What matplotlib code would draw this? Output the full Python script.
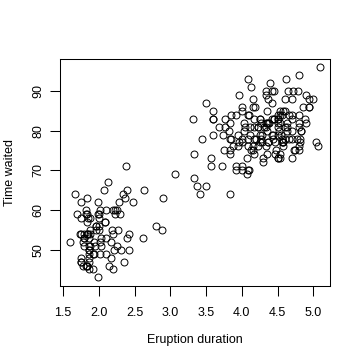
import matplotlib
matplotlib.use("Agg")
import matplotlib.pyplot as plt
import numpy as np

eruptions = [3.600, 1.800, 3.333, 2.283, 4.533, 2.883, 4.700, 3.600, 1.950, 4.350,
	1.833, 3.917, 4.200, 1.750, 4.700, 2.167, 1.750, 4.800, 1.600, 4.250,
	1.800, 1.750, 3.450, 3.067, 4.533, 3.600, 1.967, 4.083, 3.850, 4.433,
	4.300, 4.467, 3.367, 4.033, 3.833, 2.017, 1.867, 4.833, 1.833, 4.783,
	4.350, 1.883, 4.567, 1.750, 4.533, 3.317, 3.833, 2.100, 4.633, 2.000,
	4.800, 4.716, 1.833, 4.833, 1.733, 4.883, 3.717, 1.667, 4.567, 4.317,
	2.233, 4.500, 1.750, 4.800, 1.817, 4.400, 4.167, 4.700, 2.067, 4.700,
	4.033, 1.967, 4.500, 4.000, 1.983, 5.067, 2.017, 4.567, 3.883, 3.600,
	4.133, 4.333, 4.100, 2.633, 4.067, 4.933, 3.950, 4.517, 2.167, 4.000,
	2.200, 4.333, 1.867, 4.817, 1.833, 4.300, 4.667, 3.750, 1.867, 4.900,
	2.483, 4.367, 2.100, 4.500, 4.050, 1.867, 4.700, 1.783, 4.850, 3.683,
	4.733, 2.300, 4.900, 4.417, 1.700, 4.633, 2.317, 4.600, 1.817, 4.417,
	2.617, 4.067, 4.250, 1.967, 4.600, 3.767, 1.917, 4.500, 2.267, 4.650,
	1.867, 4.167, 2.800, 4.333, 1.833, 4.383, 1.883, 4.933, 2.033, 3.733,
	4.233, 2.233, 4.533, 4.817, 4.333, 1.983, 4.633, 2.017, 5.100, 1.800,
	5.033, 4.000, 2.400, 4.600, 3.567, 4.000, 4.500, 4.083, 1.800, 3.967,
	2.200, 4.150, 2.000, 3.833, 3.500, 4.583, 2.367, 5.000, 1.933, 4.617,
	1.917, 2.083, 4.583, 3.333, 4.167, 4.333, 4.500, 2.417, 4.000, 4.167,
	1.883, 4.583, 4.250, 3.767, 2.033, 4.433, 4.083, 1.833, 4.417, 2.183,
	4.800, 1.833, 4.800, 4.100, 3.966, 4.233, 3.500, 4.366, 2.250, 4.667,
	2.100, 4.350, 4.133, 1.867, 4.600, 1.783, 4.367, 3.850, 1.933, 4.500,
	2.383, 4.700, 1.867, 3.833, 3.417, 4.233, 2.400, 4.800, 2.000, 4.150,
	1.867, 4.267, 1.750, 4.483, 4.000, 4.117, 4.083, 4.267, 3.917, 4.550,
	4.083, 2.417, 4.183, 2.217, 4.450, 1.883, 1.850, 4.283, 3.950, 2.333,
	4.150, 2.350, 4.933, 2.900, 4.583, 3.833, 2.083, 4.367, 2.133, 4.350,
	2.200, 4.450, 3.567, 4.500, 4.150, 3.817, 3.917, 4.450, 2.000, 4.283,
	4.767, 4.533, 1.850, 4.250, 1.983, 2.250, 4.750, 4.117, 2.150, 4.417,
	1.817, 4.467]

waiting = [79, 54, 74, 62, 85, 55, 88, 85, 51, 85, 54, 84, 78, 47, 83, 52, 62, 84, 52, 79,
	51, 47, 78, 69, 74, 83, 55, 76, 78, 79, 73, 77, 66, 80, 74, 52, 48, 80, 59, 90,
	80, 58, 84, 58, 73, 83, 64, 53, 82, 59, 75, 90, 54, 80, 54, 83, 71, 64, 77, 81,
	59, 84, 48, 82, 60, 92, 78, 78, 65, 73, 82, 56, 79, 71, 62, 76, 60, 78, 76, 83,
	75, 82, 70, 65, 73, 88, 76, 80, 48, 86, 60, 90, 50, 78, 63, 72, 84, 75, 51, 82,
	62, 88, 49, 83, 81, 47, 84, 52, 86, 81, 75, 59, 89, 79, 59, 81, 50, 85, 59, 87,
	53, 69, 77, 56, 88, 81, 45, 82, 55, 90, 45, 83, 56, 89, 46, 82, 51, 86, 53, 79,
	81, 60, 82, 77, 76, 59, 80, 49, 96, 53, 77, 77, 65, 81, 71, 70, 81, 93, 53, 89,
	45, 86, 58, 78, 66, 76, 63, 88, 52, 93, 49, 57, 77, 68, 81, 81, 73, 50, 85, 74,
	55, 77, 83, 83, 51, 78, 84, 46, 83, 55, 81, 57, 76, 84, 77, 81, 87, 77, 51, 78,
	60, 82, 91, 53, 78, 46, 77, 84, 49, 83, 71, 80, 49, 75, 64, 76, 53, 94, 55, 76,
	50, 82, 54, 75, 78, 79, 78, 78, 70, 79, 70, 54, 86, 50, 90, 54, 54, 77, 79, 64,
	75, 47, 86, 63, 85, 82, 57, 82, 67, 74, 54, 83, 73, 73, 88, 80, 71, 83, 56, 79,
	78, 84, 58, 83, 43, 60, 75, 81, 46, 90, 46, 74]

x_ticks = [1.5, 2.0, 2.5, 3.0, 3.5, 4.0, 4.5, 5.0]
y_ticks = [50, 60, 70, 80, 90]

plt.rcParams['font.family'] = ['Liberation Sans', 'DejaVu Sans']

fig = plt.figure(figsize=(3.6, 3.6), dpi=100)
ax = fig.add_axes([0.167, 0.206, 0.751, 0.631])

ax.plot(eruptions, waiting, 'o', mfc='none', mec='black', ms=5, mew=0.7)

# R style 4% padding
xr = max(eruptions) - min(eruptions)
yr = max(waiting) - min(waiting)
ax.set_xlim(min(eruptions) - 0.04 * xr, max(eruptions) + 0.04 * xr)
ax.set_ylim(min(waiting) - 0.04 * yr, max(waiting) + 0.04 * yr)

ax.set_xticks(x_ticks)
ax.set_xticklabels(["%.1f" % t for t in x_ticks])
ax.set_yticks(y_ticks)
ax.set_yticklabels([str(t) for t in y_ticks], rotation=90, va='center')
ax.tick_params(direction='out', length=7, width=0.75, labelsize=9)
ax.tick_params(axis='x', pad=8)
ax.tick_params(axis='y', pad=4)
for s in ax.spines.values():
	s.set_linewidth(0.75)

ax.set_xlabel("Eruption duration", fontsize=9, labelpad=11)
ax.set_ylabel("Time waited", fontsize=9, labelpad=12)

fig.savefig("out.png", dpi=100)
